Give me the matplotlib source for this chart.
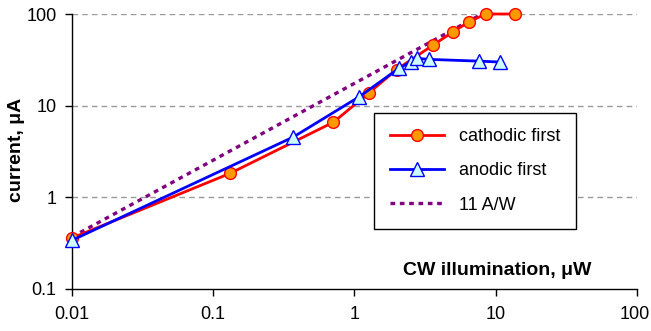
import matplotlib
matplotlib.use("Agg")
import matplotlib.pyplot as plt
import matplotlib.transforms as mtransforms
from matplotlib.lines import Line2D

plt.rcParams['font.family'] = ['Liberation Sans', 'DejaVu Sans']

# illumination power (uW) and photocurrent (uA)
cathodic_power = [0.01, 0.131, 0.71, 1.26, 1.99, 3.6, 5.0, 6.5, 8.5, 13.8]
cathodic_current = [0.36, 1.82, 6.6, 13.7, 24.8, 45.8, 64, 82.6, 100, 100]

anodic_power = [0.01, 0.368, 1.08, 2.06, 2.5, 2.78, 3.38, 7.6, 10.8]
anodic_current = [0.34, 4.54, 12.5, 25.5, 30, 32.8, 32, 30.6, 29.9]

# responsivity reference line
ref_power = [0.01, 8.0]
ref_current = [0.37, 100]

x_ticks = [0.01, 0.1, 1, 10, 100]
x_labels = ["0.01", "0.1", "1", "10", "100"]
y_ticks = [0.1, 1, 10, 100]
y_labels = ["0.1", "1", "10", "100"]

fig = plt.figure(figsize=(6.51, 3.31), dpi=100)
ax = fig.add_axes([0.1106, 0.1269, 0.8678, 0.8308])

ax.plot(ref_power, ref_current, color='#800080', lw=2.4,
        linestyle=(0, (1.4, 1.4)), zorder=2)
ax.plot(cathodic_power, cathodic_current, color='#FF0000', lw=2,
        marker='o', markersize=8.5, markerfacecolor='#FF9900',
        markeredgecolor='#FF0000', markeredgewidth=1, clip_on=False, zorder=3)
ax.plot(anodic_power, anodic_current, color='#0000FF', lw=2,
        marker='^', markersize=10, markerfacecolor='#CCFFFF',
        markeredgecolor='#0000FF', markeredgewidth=1, clip_on=False, zorder=4)

ax.set_xscale('log')
ax.set_yscale('log')
ax.set_xlim(0.01, 100)
ax.set_ylim(0.1, 100)
ax.set_xticks(x_ticks)
ax.set_xticklabels(x_labels)
ax.set_yticks(y_ticks)
ax.set_yticklabels(y_labels)
ax.minorticks_off()
ax.tick_params(axis='both', direction='out', length=5, width=1,
               labelsize=13, color='black')
ax.tick_params(axis='x', pad=7)
ax.tick_params(axis='y', pad=6)
# last x label sits at the right edge; nudge it so it stays on the canvas
last = ax.xaxis.get_major_ticks()[-1].label1
last.set_horizontalalignment('right')
last.set_transform(last.get_transform() +
                   mtransforms.ScaledTranslation(0.13, 0, fig.dpi_scale_trans))

for y in y_ticks[1:]:
    ax.axhline(y, color='#999999', lw=1, linestyle=(0, (4, 3)), zorder=1)

for side in ['top', 'right']:
    ax.spines[side].set_visible(False)
for side in ['left', 'bottom']:
    ax.spines[side].set_linewidth(1)
    ax.spines[side].set_color('black')

fig.text(17 / 651, 1 - 150 / 331, "current, \u03bcA", rotation=90,
         ha='center', va='center', fontsize=14, fontweight='bold')
ax.text(0.752, 0.069, "CW illumination, \u03bcW", transform=ax.transAxes,
        ha='center', va='center', fontsize=14, fontweight='bold')

handles = [
    Line2D([], [], color='#FF0000', lw=2, marker='o', markersize=8.5,
           markerfacecolor='#FF9900', markeredgecolor='#FF0000'),
    Line2D([], [], color='#0000FF', lw=2, marker='^', markersize=10,
           markerfacecolor='#CCFFFF', markeredgecolor='#0000FF'),
    Line2D([], [], color='#800080', lw=2.4, linestyle=(0, (1.4, 1.4))),
]
leg = ax.legend(handles, ["cathodic first", "anodic first", "11 A/W"],
                loc='upper left', bbox_to_anchor=(0.535, 0.640),
                fontsize=13, frameon=True, fancybox=False,
                edgecolor='black', framealpha=1, handlelength=3.0,
                handletextpad=0.85, borderpad=0.85, labelspacing=0.95,
                borderaxespad=0)
leg.get_frame().set_linewidth(1)

fig.savefig("out.png", dpi=100)
